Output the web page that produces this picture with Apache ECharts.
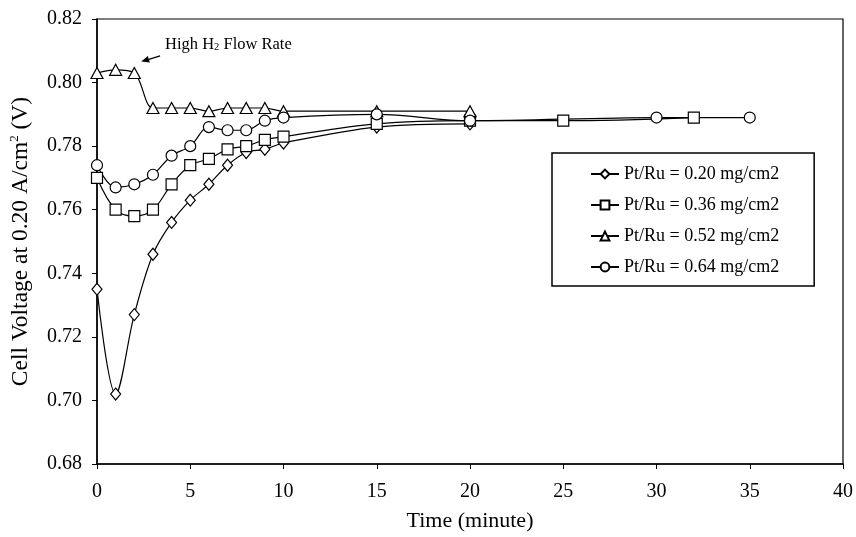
<!DOCTYPE html>
<html>
<head>
<meta charset="utf-8">
<script src="https://cdn.jsdelivr.net/npm/echarts@6/dist/echarts.min.js"></script>
<style>
  html, body { margin: 0; padding: 0; background: #fff; }
  #chart { width: 856px; height: 537px; }
</style>
</head>
<body>
<div id="chart"></div>
<script>
// Cell voltage at 0.20 A/cm2 versus time for four Pt/Ru loadings
const seriesNames = [
  'Pt/Ru = 0.20 mg/cm2',
  'Pt/Ru = 0.36 mg/cm2',
  'Pt/Ru = 0.52 mg/cm2',
  'Pt/Ru = 0.64 mg/cm2'
];

const time020 = [0, 1, 2, 3, 4, 5, 6, 7, 8, 9, 10, 15, 20];
const volt020 = [0.735, 0.702, 0.727, 0.746, 0.756, 0.763, 0.768, 0.774, 0.778, 0.779, 0.781, 0.786, 0.787];

const time036 = [0, 1, 2, 3, 4, 5, 6, 7, 8, 9, 10, 15, 20, 25, 32];
const volt036 = [0.770, 0.760, 0.758, 0.760, 0.768, 0.774, 0.776, 0.779, 0.780, 0.782, 0.783, 0.787, 0.788, 0.788, 0.789];

const time052 = [0, 1, 2, 3, 4, 5, 6, 7, 8, 9, 10, 15, 20];
const volt052 = [0.803, 0.804, 0.803, 0.792, 0.792, 0.792, 0.791, 0.792, 0.792, 0.792, 0.791, 0.791, 0.791];

const time064 = [0, 1, 2, 3, 4, 5, 6, 7, 8, 9, 10, 15, 20, 30, 35];
const volt064 = [0.774, 0.767, 0.768, 0.771, 0.777, 0.780, 0.786, 0.785, 0.785, 0.788, 0.789, 0.790, 0.788, 0.789, 0.789];

const xTicks = [0, 5, 10, 15, 20, 25, 30, 35, 40];
const yTicks = [0.68, 0.70, 0.72, 0.74, 0.76, 0.78, 0.80, 0.82];

const FONT = '"Liberation Serif", "Times New Roman", serif';

function zip(xs, ys) {
  return xs.map((x, i) => [x, ys[i]]);
}

function makeSeries(name, xs, ys, symbol, size) {
  return {
    name: name,
    type: 'line',
    data: zip(xs, ys),
    smooth: 0.35,
    symbol: symbol,
    symbolSize: size,
    showAllSymbol: true,
    lineStyle: { color: '#000', width: 1.2 },
    itemStyle: { color: '#fff', borderColor: '#000', borderWidth: 1.2 },
    emphasis: { disabled: true },
    animation: false
  };
}

const chart = echarts.init(document.getElementById('chart'), null, { renderer: 'canvas' });

const option = {
  backgroundColor: '#fff',
  animation: false,
  textStyle: { fontFamily: FONT, color: '#000' },
  grid: { left: 94, right: 11, top: 19, bottom: 70, show: true, borderColor: '#000', borderWidth: 1.2, backgroundColor: 'transparent' },
  legend: {
    orient: 'vertical',
    left: 552,
    top: 153,
    padding: [12, 35, 10, 38],
    itemGap: 13,
    itemWidth: 28,
    itemHeight: 11,
    borderColor: '#000',
    borderWidth: 1.5,
    backgroundColor: '#fff',
    data: seriesNames,
    textStyle: { fontFamily: FONT, fontSize: 18, color: '#000', padding: [0, 0, 0, 0] },
    selectedMode: false
  },
  xAxis: {
    type: 'value',
    min: xTicks[0],
    max: xTicks[xTicks.length - 1],
    interval: 5,
    name: 'Time (minute)',
    nameLocation: 'middle',
    nameGap: 46,
    nameTextStyle: { fontFamily: FONT, fontSize: 22, color: '#000' },
    axisLine: { onZero: false, lineStyle: { color: '#000', width: 1.5 } },
    axisTick: { show: true, inside: false, length: 5, lineStyle: { color: '#000', width: 1 } },
    axisLabel: { fontFamily: FONT, fontSize: 20, color: '#000', margin: 18 },
    splitLine: { show: false }
  },
  yAxis: {
    type: 'value',
    min: yTicks[0],
    max: yTicks[yTicks.length - 1],
    interval: 0.02,
    name: 'Cell Voltage at 0.20 A/cm{s|2} (V)',
    nameLocation: 'middle',
    nameGap: 64,
    nameRotate: 90,
    nameTextStyle: {
      fontFamily: FONT, fontSize: 23.5, color: '#000',
      rich: {
        s: { fontFamily: FONT, fontSize: 13, color: '#000', verticalAlign: 'top', padding: [0, 0, 12, 0] }
      }
    },
    axisLine: { onZero: false, lineStyle: { color: '#000', width: 1.5 } },
    axisTick: { show: true, inside: false, length: 5, lineStyle: { color: '#000', width: 1 } },
    axisLabel: {
      fontFamily: FONT, fontSize: 20, color: '#000', margin: 15,
      formatter: v => v.toFixed(2)
    },
    splitLine: { show: false }
  },
  series: [
    makeSeries(seriesNames[0], time020, volt020, 'diamond', [10, 12]),
    makeSeries(seriesNames[1], time036, volt036, 'rect', 11),
    makeSeries(seriesNames[2], time052, volt052, 'triangle', [12, 11]),
    makeSeries(seriesNames[3], time064, volt064, 'circle', 11)
  ]
};

chart.setOption(option);

// Annotation: "High H2 Flow Rate" with an arrow pointing at the early 0.52 mg/cm2 points
const tail = chart.convertToPixel({ gridIndex: 0 }, [3.38, 0.8084]);
const tip = chart.convertToPixel({ gridIndex: 0 }, [2.37, 0.8066]);
const textPos = chart.convertToPixel({ gridIndex: 0 }, [3.65, 0.8119]);

const dx = tip[0] - tail[0], dy = tip[1] - tail[1];
const len = Math.sqrt(dx * dx + dy * dy);
const ux = dx / len, uy = dy / len;
const headLen = 8, headHalf = 3.5;
const baseX = tip[0] - ux * headLen, baseY = tip[1] - uy * headLen;

chart.setOption({
  graphic: [
    {
      type: 'line',
      shape: { x1: tail[0], y1: tail[1], x2: baseX, y2: baseY },
      style: { stroke: '#000', lineWidth: 1.3 },
      silent: true
    },
    {
      type: 'polygon',
      shape: {
        points: [
          [tip[0], tip[1]],
          [baseX - uy * headHalf, baseY + ux * headHalf],
          [baseX + uy * headHalf, baseY - ux * headHalf]
        ]
      },
      style: { fill: '#000' },
      silent: true
    },
    {
      type: 'text',
      x: textPos[0],
      y: textPos[1],
      style: {
        text: '{a|High H}{b|2}{a| Flow Rate}',
        verticalAlign: 'middle',
        align: 'left',
        rich: {
          a: { fontFamily: FONT, fontSize: 16.5, fill: '#000' },
          b: { fontFamily: FONT, fontSize: 10.5, fill: '#000', verticalAlign: 'bottom', padding: [6, 0, 0, 0] }
        }
      },
      silent: true
    }
  ]
});
</script>
</body>
</html>
